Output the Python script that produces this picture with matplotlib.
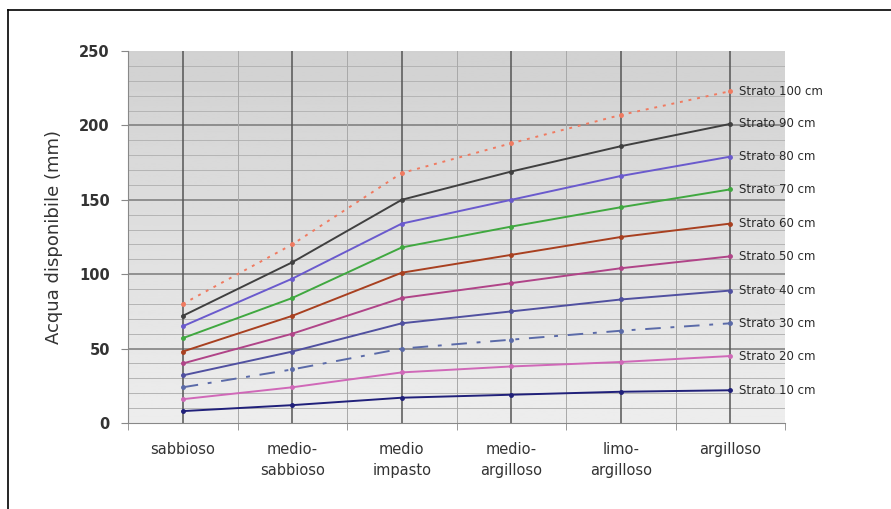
import matplotlib
matplotlib.use("Agg")
import matplotlib.pyplot as plt
import numpy as np
from matplotlib.lines import Line2D

categories = ["sabbioso", "medio-\nsabbioso", "medio\nimpasto", "medio-\nargilloso", "limo-\nargilloso", "argilloso"]
series_names = ["Strato 100 cm", "Strato 90 cm", "Strato 80 cm", "Strato 70 cm", "Strato 60 cm",
                "Strato 50 cm", "Strato 40 cm", "Strato 30 cm", "Strato 20 cm", "Strato 10 cm"]
s100 = [80, 120, 168, 188, 207, 223]
s90 = [72, 108, 150, 169, 186, 201]
s80 = [65, 97, 134, 150, 166, 179]
s70 = [57, 84, 118, 132, 145, 157]
s60 = [48, 72, 101, 113, 125, 134]
s50 = [40, 60, 84, 94, 104, 112]
s40 = [32, 48, 67, 75, 83, 89]
s30 = [24, 36, 50, 56, 62, 67]
s20 = [16, 24, 34, 38, 41, 45]
s10 = [8, 12, 17, 19, 21, 22]
series = [s100, s90, s80, s70, s60, s50, s40, s30, s20, s10]

colors = ["#f07a60", "#404040", "#6a5acd", "#40a840", "#a84020",
          "#b04488", "#5050a0", "#5a6aa8", "#d068b8", "#20207a"]
styles = [(0, (1.5, 3)), "-", "-", "-", "-", "-", "-", (0, (8, 5, 2, 5)), "-", "-"]

fig = plt.figure(figsize=(8.91, 5.09), dpi=100)
ax = fig.add_axes([128/891, 1-423/509, (785-128)/891, (423-51)/509])

x = np.arange(len(categories))
ax.set_xlim(-0.5, len(categories) - 0.5)
ax.set_ylim(0, 250)

# gradient background (darker at top)
grad = np.linspace(0.82, 0.93, 256).reshape(-1, 1)
ax.imshow(grad, extent=[-0.5, len(categories) - 0.5, 0, 250], aspect="auto",
          cmap="gray", vmin=0, vmax=1, origin="upper", zorder=0)

for yv in range(10, 250, 10):
    if yv % 50 == 0:
        ax.axhline(yv, color="#7a7a7a", lw=1.1, zorder=1)
    else:
        ax.axhline(yv, color="#b4b4b4", lw=0.7, zorder=1)
for xv in x:
    ax.axvline(xv, color="#555555", lw=1.1, zorder=1)
for xv in x[:-1] + 0.5:
    ax.axvline(xv, color="#a8a8a8", lw=0.7, zorder=1)

for vals, c, ls in zip(series, colors, styles):
    ax.plot(x, vals, color=c, lw=1.4, ls=ls, marker="o", ms=2.5, zorder=3)

for name, vals in zip(series_names, series):
    ax.annotate(name, (x[-1], vals[-1]), xytext=(6, 0), textcoords="offset points",
                va="center", ha="left", fontsize=8.5, color="#2a2a2a",
                annotation_clip=False)

for s in ["top", "right"]:
    ax.spines[s].set_visible(False)
ax.spines["left"].set_color("#888888")
ax.spines["bottom"].set_color("#888888")

ax.set_yticks(range(0, 251, 50))
ax.set_yticklabels([str(v) for v in range(0, 251, 50)], fontsize=10.5, fontweight="bold", color="#333333")
ax.set_xticks(x)
ax.set_xticklabels(categories, fontsize=10.5, color="#333333", linespacing=1.5)
ax.set_xticks(np.arange(-0.5, len(categories), 1.0), minor=True)
ax.tick_params(axis="x", which="major", length=0, pad=14)
ax.tick_params(axis="x", which="minor", length=5, color="#888888")
ax.tick_params(axis="y", length=5, color="#888888", pad=8)
ax.set_ylabel("Acqua disponibile (mm)", fontsize=13, color="#333333", labelpad=12)

# outer frame (left and top)
fig.add_artist(Line2D([8/891, 8/891], [0, 1-10/509], transform=fig.transFigure, color="black", lw=1.2))
fig.add_artist(Line2D([8/891, 1], [1-10/509, 1-10/509], transform=fig.transFigure, color="black", lw=1.2))

fig.savefig("out.png", dpi=100)
